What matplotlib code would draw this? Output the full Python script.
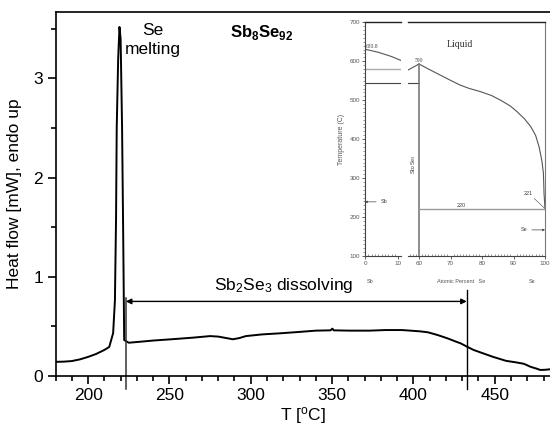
import numpy as np
import matplotlib
matplotlib.use("Agg")
import matplotlib.pyplot as plt
from matplotlib.ticker import MultipleLocator

plt.rcParams['font.family'] = ['Liberation Sans', 'DejaVu Sans']
plt.rcParams['mathtext.fontset'] = 'custom'
plt.rcParams['mathtext.rm'] = 'Liberation Sans'
plt.rcParams['mathtext.bf'] = 'Liberation Sans:bold'

# DSC curve, Sb8Se92
temp = [180, 185, 190, 195, 200, 205, 210, 213, 215.4, 216.5, 217.2, 217.6, 218.5, 219.3,
        220.0, 220.9, 221.6, 222.0, 222.2, 225, 232, 240, 253, 265, 275, 280, 285, 289,
        293, 297, 307, 318, 329, 340, 349, 350.2, 351, 361, 373, 383, 393, 404, 409, 415,
        421, 426, 429, 433, 437, 443, 449, 457, 463, 468, 472, 476, 478, 481, 484]
heat = [0.14, 0.142, 0.148, 0.165, 0.19, 0.22, 0.26, 0.29, 0.43, 0.76, 1.6, 2.5, 3.2, 3.52,
        3.4, 2.5, 1.4, 0.7, 0.36, 0.333, 0.343, 0.355, 0.37, 0.385, 0.40, 0.395, 0.38, 0.368,
        0.38, 0.40, 0.417, 0.428, 0.441, 0.455, 0.458, 0.475, 0.458, 0.455, 0.455, 0.461, 0.461,
        0.448, 0.438, 0.41, 0.377, 0.345, 0.327, 0.293, 0.26, 0.225, 0.19, 0.15, 0.135, 0.12,
        0.09, 0.07, 0.058, 0.06, 0.065]
t_start, t_end = 223.2, 432.8

# Sb-Se phase diagram (inset)
sb_liq_x = [0, 4, 8, 10.8]
sb_liq_t = [631, 623, 612, 602]
se_liq_x = [56.4, 58, 60, 63, 66.6, 70, 73, 76, 79.5, 83, 85.9, 89, 91.2, 93.5, 95.5, 97,
            98.1, 99, 99.5, 99.7, 100]
se_liq_t = [577, 584, 593, 580, 565, 551, 539, 530, 522, 512, 500, 485, 470, 452, 432, 410,
            381, 345, 312, 260, 221]

fig = plt.figure(figsize=(5.5, 4.29), dpi=100)
ax = fig.add_axes([0.101, 0.1242, 0.8991, 0.8471])
ax.plot(temp, heat, color='black', lw=1.4)
ax.set_xlim(180, 484)
ax.set_ylim(0, 3.668)
ax.spines['right'].set_visible(False)
for s in ax.spines.values():
    s.set_linewidth(1.2)
ax.xaxis.set_major_locator(MultipleLocator(50))
ax.xaxis.set_minor_locator(MultipleLocator(10))
ax.yaxis.set_major_locator(MultipleLocator(1))
ax.yaxis.set_minor_locator(MultipleLocator(0.5))
ax.tick_params(which='major', length=6, width=1.2, labelsize=12.5, pad=3)
ax.tick_params(which='minor', length=3.5, width=1.2)
ax.set_xlabel(r'T [$\mathregular{^o}$C]', fontsize=12.5, labelpad=1)
ax.set_ylabel('Heat flow [mW], endo up', fontsize=12.5, labelpad=8)

ax.plot([t_start, t_start], [-0.13, 0.78], color='#333333', lw=1.1, clip_on=False)
ax.plot([t_end, t_end], [-0.13, 0.87], color='black', lw=1.0, clip_on=False)
ax.annotate('', xy=(t_start, 0.75), xytext=(t_end, 0.75),
            arrowprops=dict(arrowstyle='<|-|>', color='black', lw=1.0,
                            mutation_scale=8, shrinkA=0, shrinkB=0))
ax.text(320.5, 0.87, r'Sb$\mathregular{_2}$Se$\mathregular{_3}$ dissolving',
        fontsize=12.5, ha='center', va='baseline')
ax.text(239.5, 3.56, 'Se\nmelting', fontsize=12.5, ha='center', va='top', linespacing=1.3)
ax.text(287, 3.46, r'Sb$_\mathbf{8}$Se$_\mathbf{92}$', fontsize=12, fontweight='bold',
        ha='left', va='center')

# inset: broken-axis phase diagram
grey = '#7a7a7a'
dark = '#444444'
y0 = 1 - 256 / 429
h = (256 - 22.3) / 429
axl = fig.add_axes([365 / 550, y0, 36 / 550, h])
axr = fig.add_axes([407.7 / 550, y0, (545 - 407.7) / 550, h])
axl.set_xlim(0, 10.8)
axr.set_xlim(56.4, 100)
for a in (axl, axr):
    a.set_ylim(100, 700)
    a.patch.set_alpha(0)
    for s in a.spines.values():
        s.set_linewidth(0.8)
        s.set_color(dark)
    a.spines['top'].set_color('#222222')
    a.spines['top'].set_linewidth(1.0)
    a.tick_params(which='major', length=2.5, width=0.6, labelsize=4.5, colors=dark,
                  pad=1, labelcolor='#555555')
    a.tick_params(which='minor', length=1.3, width=0.4, colors=dark)
    a.xaxis.set_minor_locator(MultipleLocator(1))
    a.tick_params(axis='x', which='minor', direction='in')
axl.spines['right'].set_visible(False)
axr.spines['left'].set_visible(False)
axr.spines['right'].set_color(grey)
axr.tick_params(axis='y', which='both', left=False, labelleft=False)
axl.xaxis.set_major_locator(MultipleLocator(10))
axl.yaxis.set_major_locator(MultipleLocator(100))
axl.yaxis.set_minor_locator(MultipleLocator(10))
axr.xaxis.set_major_locator(MultipleLocator(10))
axl.set_ylabel('Temperature (C)', fontsize=5, color='#555555', labelpad=3)

axl.plot(sb_liq_x, sb_liq_t, color='#555555', lw=0.8)
axl.axhline(581, color='#aaaaaa', lw=1.0)
axl.axhline(545, color=dark, lw=0.8)
axr.plot([56.4, 60], [545, 545], color=dark, lw=0.8)
axr.plot(se_liq_x, se_liq_t, color='#555555', lw=0.8)
axr.plot([60, 60], [100, 593], color=grey, lw=1.2)
axr.plot([60, 100], [220, 220], color='#999999', lw=1.0)

serif = ['Liberation Serif', 'DejaVu Serif']
axl.text(0.3, 632, '630.8', fontsize=4, family=serif, color=dark, va='bottom')
axr.text(60, 596, '590', fontsize=4, family=serif, color=dark, ha='center', va='bottom')
axr.text(73, 642, 'Liquid', fontsize=7, family=serif, color='#333333', ha='center',
         va='center')
axr.text(73.5, 223, '220', fontsize=4, color=dark, ha='center', va='bottom')
axr.annotate('221', xy=(99.8, 223), xytext=(94.8, 255), fontsize=4, color=dark,
             ha='center', va='bottom',
             arrowprops=dict(arrowstyle='-', color=dark, lw=0.4, shrinkA=0, shrinkB=0))
axr.annotate('Se', xy=(100, 167), xytext=(94.5, 167), fontsize=4, color=dark,
             ha='right', va='center',
             arrowprops=dict(arrowstyle='-|>', color=dark, lw=0.5, mutation_scale=3,
                             shrinkA=1, shrinkB=0))
axl.annotate('Sb', xy=(0, 239), xytext=(4.6, 239), fontsize=4, color=dark,
             ha='left', va='center',
             arrowprops=dict(arrowstyle='-|>', color=dark, lw=0.5, mutation_scale=3,
                             shrinkA=1, shrinkB=0))
axr.text(58.4, 335, r'Sb$_2$Se$_3$', fontsize=4, color=dark, rotation=90,
         ha='center', va='center')
axl.text(0.5, -0.11, 'Sb', fontsize=4, color='#555555', ha='left', va='center',
         transform=axl.get_xaxis_transform())
axr.text(73.4, -0.11, 'Atomic Percent   Se', fontsize=4, color='#555555', ha='center',
         va='center', transform=axr.get_xaxis_transform())
axr.text(95.8, -0.11, 'Se', fontsize=4, color='#555555', ha='center', va='center',
         transform=axr.get_xaxis_transform())

fig.savefig('out.png', dpi=100)
